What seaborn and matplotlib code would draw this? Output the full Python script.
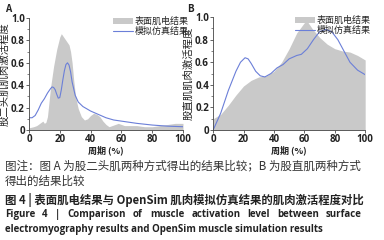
import matplotlib
matplotlib.use('Agg')
import numpy as np
import pandas as pd
import seaborn as sns
import matplotlib.pyplot as plt
from matplotlib.patches import Patch
from matplotlib.lines import Line2D

# 股二头肌 (A)
a_emg_x = [0, 3, 5, 7, 8, 9, 10, 11, 12, 13, 14, 16, 18, 20, 21, 22, 24, 26, 27, 28, 29, 30, 31, 32, 34, 36,
           38, 40, 42, 44, 46, 48, 50, 52, 54, 56, 58, 60, 62, 66, 70, 75, 80, 85, 90, 95, 100]
a_emg_y = [0.02, 0.03, 0.04, 0.06, 0.07, 0.08, 0.06, 0.07, 0.12, 0.25, 0.38, 0.57, 0.72, 0.83, 0.86, 0.84, 0.8,
           0.76, 0.7, 0.6, 0.45, 0.33, 0.25, 0.19, 0.12, 0.09, 0.1, 0.13, 0.15, 0.14, 0.12, 0.08, 0.05, 0.03,
           0.04, 0.05, 0.06, 0.05, 0.04, 0.04, 0.04, 0.03, 0.03, 0.04, 0.05, 0.06, 0.06]
a_sim_x = [0, 2, 4, 6, 8, 10, 12, 14, 15, 16, 17, 18, 19, 20, 21, 22, 23, 24, 25, 26, 27, 28, 30, 32, 35,
           40, 45, 50, 55, 60, 70, 80, 90, 100]
a_sim_y = [0.11, 0.11, 0.13, 0.18, 0.24, 0.28, 0.33, 0.37, 0.385, 0.38, 0.36, 0.32, 0.285, 0.29, 0.36, 0.45,
           0.53, 0.585, 0.6, 0.58, 0.52, 0.43, 0.31, 0.25, 0.21, 0.17, 0.14, 0.11, 0.09, 0.08, 0.06, 0.045,
           0.035, 0.03]

# 股直肌 (B)
b_emg_x = [0, 5, 10, 15, 20, 25, 30, 35, 40, 45, 50, 55, 60, 62, 65, 70, 75, 80, 85, 90, 95, 100]
b_emg_y = [0.1, 0.14, 0.22, 0.31, 0.39, 0.44, 0.47, 0.48, 0.52, 0.6, 0.72, 0.86, 0.95, 0.96, 0.9, 0.82,
           0.76, 0.72, 0.7, 0.69, 0.66, 0.62]
b_sim_x = [0, 5, 10, 15, 18, 21, 23, 25, 28, 31, 34, 38, 42, 46, 50, 55, 58, 62, 66, 70, 74, 78, 82, 86,
           90, 95, 100]
b_sim_y = [0.0, 0.15, 0.35, 0.52, 0.6, 0.64, 0.63, 0.59, 0.52, 0.48, 0.47, 0.5, 0.55, 0.58, 0.63, 0.66,
           0.67, 0.72, 0.8, 0.87, 0.89, 0.87, 0.8, 0.7, 0.6, 0.53, 0.49]

xticks = [0, 20, 40, 60, 80, 100]
yticks = [0, 0.2, 0.4, 0.6, 0.8, 1.0]
ytick_labels = ["0", "0.2", "0.4", "0.6", "0.8", "1.0"]
ylabels = ["股二头肌肌肉激活程度", "股直肌肌肉激活程度"]
legend_labels = ["表面肌电结果", "模拟仿真结果"]
xlabel = "周期 (%)"
caption = [
    "图注：图 A 为股二头肌两种方式得出的结果比较；B 为股直肌两种方式",
    "得出的结果比较",
    "图 4 | 表面肌电结果与 OpenSim 肌肉模拟仿真结果的肌肉激活程度对比",
    "Figure 4  |  Comparison of muscle activation level between surface",
    "electromyography results and OpenSim muscle simulation results",
]

sns.set_theme(style="ticks")
plt.rcParams['font.family'] = ['Noto Sans CJK SC', 'DejaVu Sans']

gray = "#c9c9c9"
blue = "#6b7fd8"

fig = plt.figure(figsize=(3.84, 2.4), dpi=100)
ax1 = fig.add_axes([0.0755, 0.458, 0.401, 0.467])
ax2 = fig.add_axes([0.555, 0.458, 0.396, 0.471])

panels = [(ax1, a_emg_x, a_emg_y, a_sim_x, a_sim_y),
          (ax2, b_emg_x, b_emg_y, b_sim_x, b_sim_y)]
for i, (ax, ex, ey, sx, sy) in enumerate(panels):
    ax.fill_between(ex, ey, color=gray, lw=0)
    df = pd.DataFrame({"x": sx, "y": sy})
    sns.lineplot(data=df, x="x", y="y", ax=ax, color=blue, lw=0.8)
    ax.set_xlim(0, 100)
    ax.set_ylim(0, 1.0)
    ax.set_xticks(xticks, [str(v) for v in xticks], fontsize=7, fontweight="bold",
                  family=["Open Sans", "DejaVu Sans"])
    ax.set_yticks(yticks, ytick_labels, fontsize=7, fontweight="bold",
                  family=["Open Sans", "DejaVu Sans"])
    ax.set_yticks(np.arange(0.1, 1.0, 0.2), minor=True)
    ax.tick_params(axis="both", length=2, width=0.5, pad=1, labelcolor="#222222")
    ax.tick_params(axis="y", which="minor", length=1.2, width=0.4)
    sns.despine(ax=ax)
    for s in ["left", "bottom"]:
        ax.spines[s].set_linewidth(0.6)
        ax.spines[s].set_color("#444444")
    ax.set_xlabel(xlabel, fontsize=6.5, labelpad=0, fontweight="bold", color="#222222")
    ax.set_ylabel(ylabels[i], fontsize=7.5, labelpad=1, color="#222222")
    handles = [Patch(facecolor=gray, edgecolor="none"), Line2D([], [], color=blue, lw=0.8)]
    ax.legend(handles, legend_labels, loc="upper right", bbox_to_anchor=(1.07, 1.06), frameon=False,
              fontsize=6.5, handlelength=2.2, handletextpad=0.2, labelspacing=0.1, borderpad=0.1)

fig.text(0.012, 0.985, "A", fontsize=7, fontweight="bold", va="top", color="#222222")
fig.text(0.487, 0.985, "B", fontsize=7, fontweight="bold", va="top", color="#222222")

ys = [0.308, 0.245, 0.168, 0.105, 0.043]
fig.text(0.013, ys[0], caption[0], fontsize=8.3, color="#333333", va="center")
fig.text(0.013, ys[1], caption[1], fontsize=8.3, color="#333333", va="center")
fig.text(0.013, ys[2], caption[2], fontsize=8.2, color="#222222", va="center", fontweight="bold")
fig.text(0.013, ys[4], caption[4], fontsize=7.0, color="#222222", va="center", fontweight="bold",
         family=["Open Sans", "DejaVu Sans"])

# English title line, spread across the width like the journal layout
renderer = fig.canvas.get_renderer()
words = caption[3].split()
texts = [fig.text(0, ys[3], w, fontsize=7.0, color="#222222", va="center", fontweight="bold",
                  family=["Open Sans", "DejaVu Sans"]) for w in words]
widths = [t.get_window_extent(renderer).width for t in texts]
x0, x1 = 5.0, 362.0
gap = (x1 - x0 - sum(widths)) / (len(words) - 1)
x = x0
for t, w in zip(texts, widths):
    t.set_x(x / 384.0)
    x += w + gap

fig.savefig("out.png", dpi=100)
